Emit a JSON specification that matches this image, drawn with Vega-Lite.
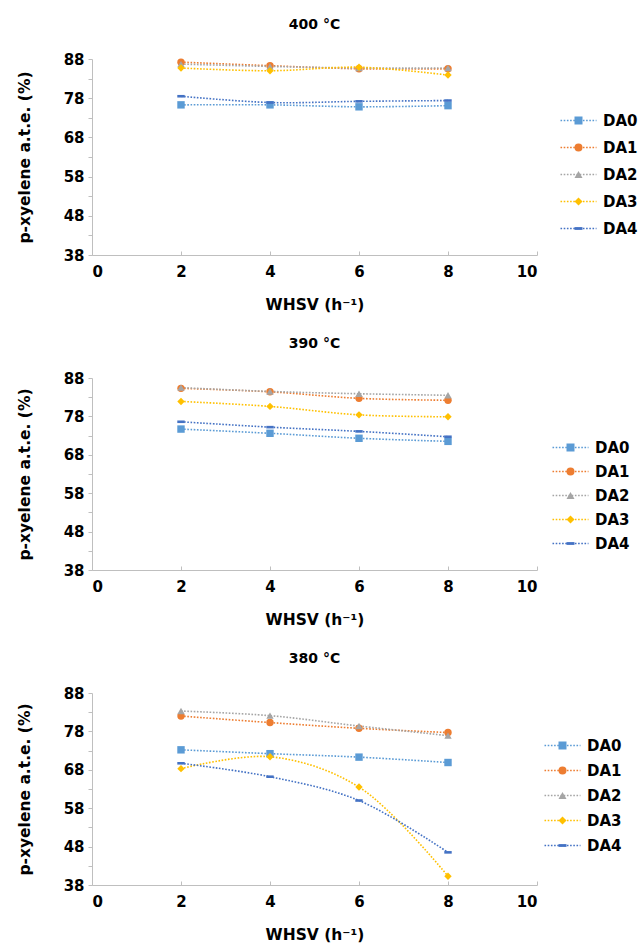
{
  "$schema": "https://vega.github.io/schema/vega-lite/v6.json",
  "padding": {"left": 17, "top": 18, "right": 2, "bottom": 2},
  "background": "white",
  "config": {
    "font": "DejaVu Sans",
    "view": {"stroke": null},
    "title": {"fontSize": 14, "fontWeight": "bold", "font": "DejaVu Sans", "color": "#000", "offset": 20},
    "axis": {"labelFont": "DejaVu Sans", "labelFontSize": 15, "labelFontWeight": "bold", "labelColor": "#000", "titleFont": "DejaVu Sans", "titleFontSize": 15.5, "titleFontWeight": "bold", "titleColor": "#000", "grid": false, "domainColor": "#BFBFBF", "tickColor": "#BFBFBF", "tickSize": 4, "labelPadding": 5, "labelOverlap": false},
    "axisY": {"labelPadding": 4, "titlePadding": 31},
    "axisX": {"titlePadding": 18, "tickSize": -4, "labelPadding": 13},
    "legend": {"labelFont": "DejaVu Sans", "labelFontSize": 15, "labelFontWeight": "bold", "labelColor": "#000", "symbolSize": 64, "symbolStrokeWidth": 0, "labelOffset": 17, "padding": 0, "title": null}
  },
  "datasets": {
    "d": [
      {"T": "400 °C", "x": 2, "s": "DA0", "y": 76.3},
      {"T": "400 °C", "x": 4, "s": "DA0", "y": 76.3},
      {"T": "400 °C", "x": 6, "s": "DA0", "y": 75.8},
      {"T": "400 °C", "x": 8, "s": "DA0", "y": 76.1},
      {"T": "400 °C", "x": 2, "s": "DA1", "y": 87.2},
      {"T": "400 °C", "x": 4, "s": "DA1", "y": 86.3},
      {"T": "400 °C", "x": 6, "s": "DA1", "y": 85.5},
      {"T": "400 °C", "x": 8, "s": "DA1", "y": 85.5},
      {"T": "400 °C", "x": 2, "s": "DA2", "y": 86.7},
      {"T": "400 °C", "x": 4, "s": "DA2", "y": 86.1},
      {"T": "400 °C", "x": 6, "s": "DA2", "y": 85.7},
      {"T": "400 °C", "x": 8, "s": "DA2", "y": 85.7},
      {"T": "400 °C", "x": 2, "s": "DA3", "y": 85.7},
      {"T": "400 °C", "x": 4, "s": "DA3", "y": 85.0},
      {"T": "400 °C", "x": 6, "s": "DA3", "y": 85.9},
      {"T": "400 °C", "x": 8, "s": "DA3", "y": 83.9},
      {"T": "400 °C", "x": 2, "s": "DA4", "y": 78.5},
      {"T": "400 °C", "x": 4, "s": "DA4", "y": 76.9},
      {"T": "400 °C", "x": 6, "s": "DA4", "y": 77.2},
      {"T": "400 °C", "x": 8, "s": "DA4", "y": 77.4},
      {"T": "390 °C", "x": 2, "s": "DA0", "y": 74.7},
      {"T": "390 °C", "x": 4, "s": "DA0", "y": 73.6},
      {"T": "390 °C", "x": 6, "s": "DA0", "y": 72.3},
      {"T": "390 °C", "x": 8, "s": "DA0", "y": 71.5},
      {"T": "390 °C", "x": 2, "s": "DA1", "y": 85.3},
      {"T": "390 °C", "x": 4, "s": "DA1", "y": 84.4},
      {"T": "390 °C", "x": 6, "s": "DA1", "y": 82.7},
      {"T": "390 °C", "x": 8, "s": "DA1", "y": 82.2},
      {"T": "390 °C", "x": 2, "s": "DA2", "y": 85.5},
      {"T": "390 °C", "x": 4, "s": "DA2", "y": 84.5},
      {"T": "390 °C", "x": 6, "s": "DA2", "y": 83.9},
      {"T": "390 °C", "x": 8, "s": "DA2", "y": 83.5},
      {"T": "390 °C", "x": 2, "s": "DA3", "y": 81.9},
      {"T": "390 °C", "x": 4, "s": "DA3", "y": 80.6},
      {"T": "390 °C", "x": 6, "s": "DA3", "y": 78.4},
      {"T": "390 °C", "x": 8, "s": "DA3", "y": 77.9},
      {"T": "390 °C", "x": 2, "s": "DA4", "y": 76.6},
      {"T": "390 °C", "x": 4, "s": "DA4", "y": 75.2},
      {"T": "390 °C", "x": 6, "s": "DA4", "y": 74.1},
      {"T": "390 °C", "x": 8, "s": "DA4", "y": 72.7},
      {"T": "380 °C", "x": 2, "s": "DA0", "y": 73.2},
      {"T": "380 °C", "x": 4, "s": "DA0", "y": 72.2},
      {"T": "380 °C", "x": 6, "s": "DA0", "y": 71.3},
      {"T": "380 °C", "x": 8, "s": "DA0", "y": 69.9},
      {"T": "380 °C", "x": 2, "s": "DA1", "y": 82.0},
      {"T": "380 °C", "x": 4, "s": "DA1", "y": 80.3},
      {"T": "380 °C", "x": 6, "s": "DA1", "y": 78.8},
      {"T": "380 °C", "x": 8, "s": "DA1", "y": 77.7},
      {"T": "380 °C", "x": 2, "s": "DA2", "y": 83.3},
      {"T": "380 °C", "x": 4, "s": "DA2", "y": 82.1},
      {"T": "380 °C", "x": 6, "s": "DA2", "y": 79.4},
      {"T": "380 °C", "x": 8, "s": "DA2", "y": 76.9},
      {"T": "380 °C", "x": 2, "s": "DA3", "y": 68.3},
      {"T": "380 °C", "x": 4, "s": "DA3", "y": 71.4},
      {"T": "380 °C", "x": 6, "s": "DA3", "y": 63.5},
      {"T": "380 °C", "x": 8, "s": "DA3", "y": 40.3},
      {"T": "380 °C", "x": 2, "s": "DA4", "y": 69.7},
      {"T": "380 °C", "x": 4, "s": "DA4", "y": 66.2},
      {"T": "380 °C", "x": 6, "s": "DA4", "y": 60.0},
      {"T": "380 °C", "x": 8, "s": "DA4", "y": 46.5}
    ]
  },
  "spacing": 24,
  "resolve": {"legend": {"stroke": "independent", "fill": "independent", "shape": "independent"}},
  "vconcat": [
    {
      "title": "400 °C",
      "width": 445, "height": 196,
      "data": {"name": "d"},
      "transform": [{"filter": "datum.T === '400 °C'"}],
      "encoding": {
        "x": {"field": "x", "type": "quantitative", "scale": {"domain": [0, 10]}, "axis": {"values": [0, 2, 4, 6, 8, 10], "title": "WHSV (h⁻¹)"}},
        "y": {"field": "y", "type": "quantitative", "scale": {"domain": [38, 88]}, "axis": {"values": [38, 43, 48, 53, 58, 63, 68, 73, 78, 83, 88], "labelExpr": "(datum.value - 38) % 10 === 0 ? datum.label : ''", "title": "p-xyelene a.t.e. (%)"}}
      },
      "layer": [
        {
          "mark": {"type": "line", "strokeDash": [1.6, 1.6], "strokeWidth": 1.6, "interpolate": "catmull-rom"},
          "encoding": {
            "stroke": {"field": "s", "type": "nominal", "scale": {"range": ["#5B9BD5", "#ED7D31", "#A5A5A5", "#FFC000", "#4472C4"]}, "legend": {"orient": "none", "legendX": 479, "legendY": 54, "rowPadding": 11, "symbolType": "M-4.5,0L4.5,0", "symbolDash": [1.6, 1.6], "symbolStrokeWidth": 1.6, "labelExpr": "''"}}
          }
        },
        {
          "mark": {"type": "point", "filled": true, "size": 55, "opacity": 1},
          "encoding": {
            "fill": {"field": "s", "type": "nominal", "scale": {"domain": ["DA0", "DA1", "DA2", "DA3", "DA4"], "range": ["#5B9BD5", "#ED7D31", "#A5A5A5", "#FFC000", "#4472C4"]}, "legend": {"orient": "none", "legendX": 479, "legendY": 54, "rowPadding": 11}},
            "shape": {"field": "s", "type": "nominal", "scale": {"domain": ["DA0", "DA1", "DA2", "DA3", "DA4"], "range": ["square", "circle", "triangle-up", "diamond", "M-1,-0.35h2v0.7h-2Z"]}, "legend": {"orient": "none", "legendX": 479, "legendY": 54, "rowPadding": 11}}
          }
        }
      ]
    },
    {
      "title": "390 °C",
      "width": 445, "height": 192,
      "data": {"name": "d"},
      "transform": [{"filter": "datum.T === '390 °C'"}],
      "encoding": {
        "x": {"field": "x", "type": "quantitative", "scale": {"domain": [0, 10]}, "axis": {"values": [0, 2, 4, 6, 8, 10], "title": "WHSV (h⁻¹)"}},
        "y": {"field": "y", "type": "quantitative", "scale": {"domain": [38, 88]}, "axis": {"values": [38, 43, 48, 53, 58, 63, 68, 73, 78, 83, 88], "labelExpr": "(datum.value - 38) % 10 === 0 ? datum.label : ''", "title": "p-xyelene a.t.e. (%)"}}
      },
      "layer": [
        {
          "mark": {"type": "line", "strokeDash": [1.6, 1.6], "strokeWidth": 1.6, "interpolate": "catmull-rom"},
          "encoding": {
            "stroke": {"field": "s", "type": "nominal", "scale": {"range": ["#5B9BD5", "#ED7D31", "#A5A5A5", "#FFC000", "#4472C4"]}, "legend": {"orient": "none", "legendX": 471, "legendY": 62, "rowPadding": 8, "symbolType": "M-4.5,0L4.5,0", "symbolDash": [1.6, 1.6], "symbolStrokeWidth": 1.6, "labelExpr": "''"}}
          }
        },
        {
          "mark": {"type": "point", "filled": true, "size": 55, "opacity": 1},
          "encoding": {
            "fill": {"field": "s", "type": "nominal", "scale": {"domain": ["DA0", "DA1", "DA2", "DA3", "DA4"], "range": ["#5B9BD5", "#ED7D31", "#A5A5A5", "#FFC000", "#4472C4"]}, "legend": {"orient": "none", "legendX": 471, "legendY": 62, "rowPadding": 8}},
            "shape": {"field": "s", "type": "nominal", "scale": {"domain": ["DA0", "DA1", "DA2", "DA3", "DA4"], "range": ["square", "circle", "triangle-up", "diamond", "M-1,-0.35h2v0.7h-2Z"]}, "legend": {"orient": "none", "legendX": 471, "legendY": 62, "rowPadding": 8}}
          }
        }
      ]
    },
    {
      "title": "380 °C",
      "width": 445, "height": 192,
      "data": {"name": "d"},
      "transform": [{"filter": "datum.T === '380 °C'"}],
      "encoding": {
        "x": {"field": "x", "type": "quantitative", "scale": {"domain": [0, 10]}, "axis": {"values": [0, 2, 4, 6, 8, 10], "title": "WHSV (h⁻¹)"}},
        "y": {"field": "y", "type": "quantitative", "scale": {"domain": [38, 88]}, "axis": {"values": [38, 43, 48, 53, 58, 63, 68, 73, 78, 83, 88], "labelExpr": "(datum.value - 38) % 10 === 0 ? datum.label : ''", "title": "p-xyelene a.t.e. (%)"}}
      },
      "layer": [
        {
          "mark": {"type": "line", "strokeDash": [1.6, 1.6], "strokeWidth": 1.6, "interpolate": "catmull-rom"},
          "encoding": {
            "stroke": {"field": "s", "type": "nominal", "scale": {"range": ["#5B9BD5", "#ED7D31", "#A5A5A5", "#FFC000", "#4472C4"]}, "legend": {"orient": "none", "legendX": 463, "legendY": 45, "rowPadding": 9, "symbolType": "M-4.5,0L4.5,0", "symbolDash": [1.6, 1.6], "symbolStrokeWidth": 1.6, "labelExpr": "''"}}
          }
        },
        {
          "mark": {"type": "point", "filled": true, "size": 55, "opacity": 1},
          "encoding": {
            "fill": {"field": "s", "type": "nominal", "scale": {"domain": ["DA0", "DA1", "DA2", "DA3", "DA4"], "range": ["#5B9BD5", "#ED7D31", "#A5A5A5", "#FFC000", "#4472C4"]}, "legend": {"orient": "none", "legendX": 463, "legendY": 45, "rowPadding": 9}},
            "shape": {"field": "s", "type": "nominal", "scale": {"domain": ["DA0", "DA1", "DA2", "DA3", "DA4"], "range": ["square", "circle", "triangle-up", "diamond", "M-1,-0.35h2v0.7h-2Z"]}, "legend": {"orient": "none", "legendX": 463, "legendY": 45, "rowPadding": 9}}
          }
        }
      ]
    }
  ]
}
